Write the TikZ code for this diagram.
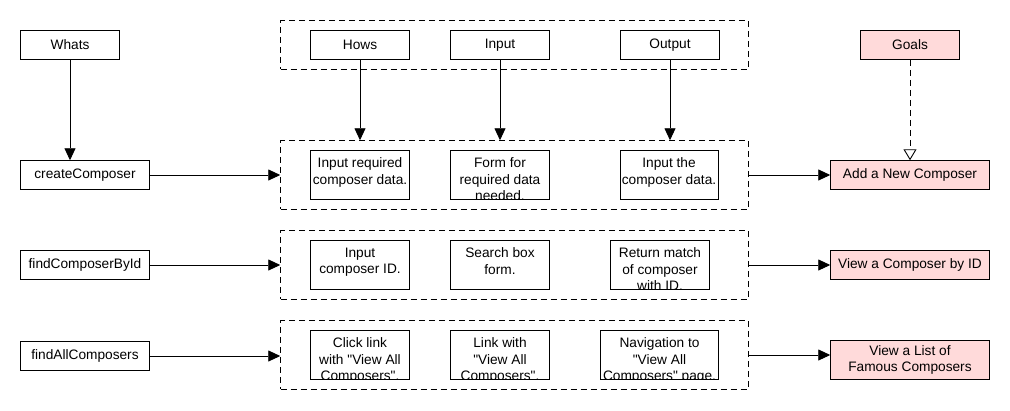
\documentclass[tikz,border=0pt]{standalone}
\usepackage{fontspec}
\setmainfont{Liberation Sans}
\usetikzlibrary{arrows.meta}
\definecolor{goalpink}{RGB}{255,218,218}
\newcommand\cliptext[2]{%
  \begin{scope}
    \clip (#1.south west) rectangle (#1.north east);
    \node[txt] (#1t) at ([yshift=-7pt]#1.north) {#2};
  \end{scope}}
\begin{document}
\begin{tikzpicture}[x=1pt,y=-1pt, line width=0.9pt,
  every node/.style={font=\fontsize{13.7}{16.5}\selectfont},
  box/.style={draw, rectangle, inner sep=0pt, minimum height=28.6pt, align=center},
  goal/.style={box, fill=goalpink, minimum width=158.6pt},
  grp/.style={draw, dash pattern=on 6pt off 4pt, inner sep=0pt, minimum width=467.6pt},
  hbox/.style={draw, inner sep=0pt, minimum height=48.6pt},
  txt/.style={anchor=north, align=center, inner sep=0pt},
  arr/.style={-{Triangle[length=12pt,width=11pt]}},
  oarr/.style={dash pattern=on 6pt off 4pt, -{Triangle[open,length=11pt,width=13pt,fill=white]}},
]
\useasboundingbox (0,0) rectangle (1010,410);

% groups
\node[grp, minimum height=48.6pt] (g0) at (514.5,45) {};
\node[grp, minimum height=68.6pt] (g1) at (514.5,175) {};
\node[grp, minimum height=68.6pt] (g2) at (514.5,265) {};
\node[grp, minimum height=68.6pt] (g3) at (514.5,355) {};

% left column
\node[box, minimum width=98.6pt] (whats) at (70,45) {Whats};
\node[box, minimum width=128.6pt] (create) at (85,175) {createComposer};
\node[box, minimum width=128.6pt] (byid) at (85,265) {findComposerById};
\node[box, minimum width=128.6pt] (all) at (85,356) {findAllComposers};

% top row
\node[box, minimum width=98.6pt] (hows) at (360,45) {Hows};
\node[box, minimum width=98.6pt] (input) at (500,45) {Input};
\node[box, minimum width=98.6pt] (output) at (670,45) {Output};
\node[goal, minimum width=98.6pt] (goals) at (910,45) {Goals};

% row 1
\node[hbox, minimum width=98.6pt] (r1a) at (360,175) {};
\node[hbox, minimum width=98.6pt] (r1b) at (500,175) {};
\node[hbox, minimum width=98pt] (r1c) at (669,175) {};
\cliptext{r1a}{Input required\\composer data.}
\cliptext{r1b}{Form for\\required data\\needed.}
\cliptext{r1c}{Input the\\composer data.}

% row 2
\node[hbox, minimum width=98.6pt] (r2a) at (360,265) {};
\node[hbox, minimum width=98.6pt] (r2b) at (500,265) {};
\node[hbox, minimum width=99.3pt] (r2c) at (660,265) {};
\cliptext{r2a}{Input\\composer ID.}
\cliptext{r2b}{Search box\\form.}
\cliptext{r2c}{Return match\\of composer\\with ID.}

% row 3
\node[hbox, minimum width=98.6pt] (r3a) at (360,355) {};
\node[hbox, minimum width=98.6pt] (r3b) at (500,355) {};
\node[hbox, minimum width=118.6pt] (r3c) at (659.5,355) {};
\cliptext{r3a}{Click link\\with \textquotedbl View All\\Composers\textquotedbl.}
\cliptext{r3b}{Link with\\\textquotedbl View All\\Composers\textquotedbl.}
\cliptext{r3c}{Navigation to\\\textquotedbl View All\\Composers\textquotedbl{} page.}

% goals
\node[goal] (add) at (910,175) {Add a New Composer};
\node[goal] (view) at (910,265) {View a Composer by ID};
\node[goal, minimum height=38.6pt] (list) at (910,360) {View a List of\\Famous Composers};

% connectors
\draw[arr] (whats.south) -- (whats.south |- create.north);
\draw[arr] (hows.south) -- (hows.south |- g1.north);
\draw[arr] (input.south) -- (input.south |- g1.north);
\draw[arr] (output.south) -- (output.south |- g1.north);
\draw[oarr] (goals.south) -- (add.north);

\draw[arr] (create.east) -- (create.east -| g1.west);
\draw[arr] (byid.east) -- (byid.east -| g2.west);
\draw[arr] (all.east) -- (all.east -| g3.west);

\draw[arr] (g1.east |- add.west) -- (add.west);
\draw[arr] (g2.east |- view.west) -- (view.west);
\draw[arr] (g3.east) -- (g3.east -| list.west);
\end{tikzpicture}
\end{document}
